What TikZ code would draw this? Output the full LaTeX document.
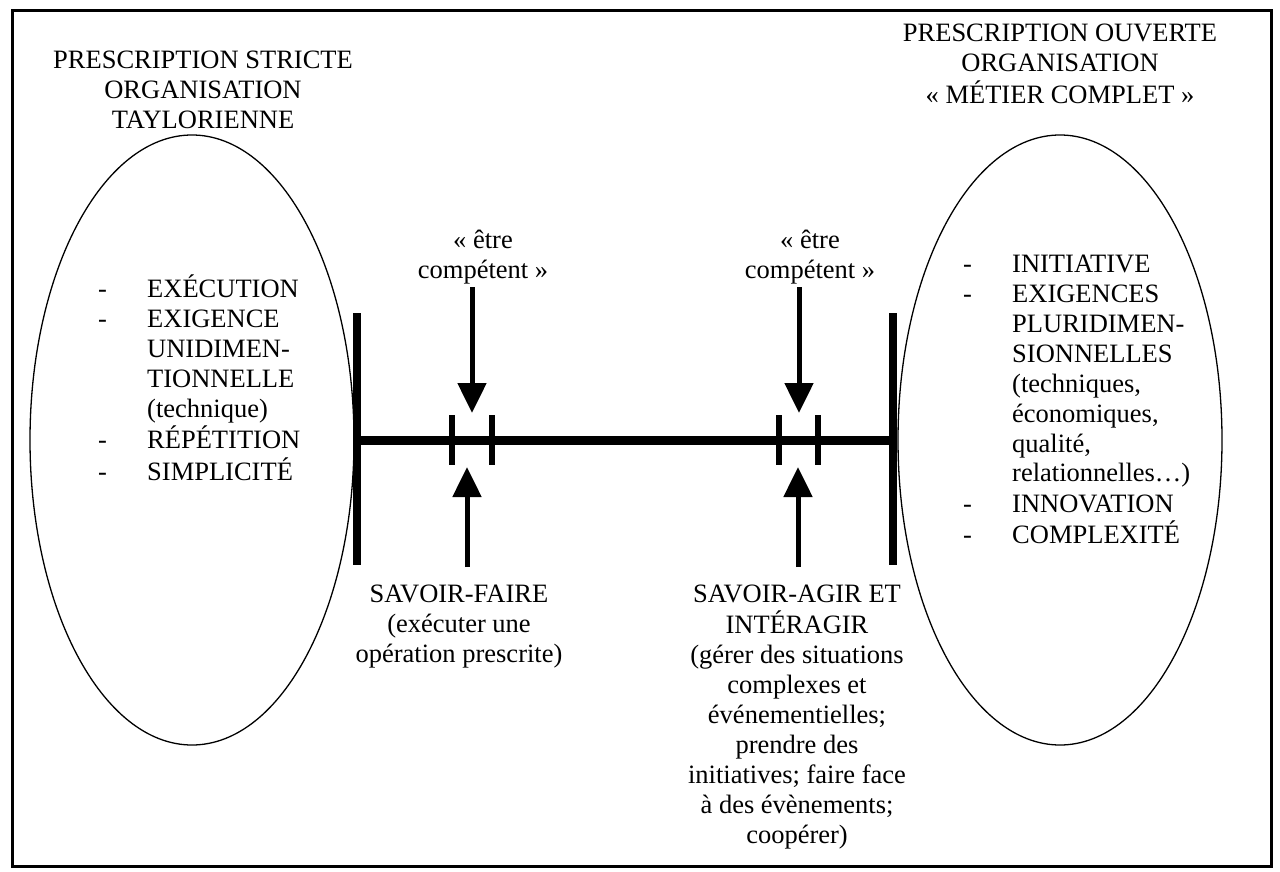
\documentclass[tikz,border=0pt]{standalone}
\usepackage{fontspec}
\setmainfont{Liberation Serif}
\usetikzlibrary{arrows.meta,shapes.geometric}
\newcommand\ctab[1]{\begin{tabular}[t]{@{}c@{}}#1\end{tabular}}
\newcommand\ltab[1]{\begin{tabular}[t]{@{}p{49pt}@{}l@{}}#1\end{tabular}}
\begin{document}
\begin{tikzpicture}[
		x=1pt, y=-1pt,
		txt/.style={inner sep=0pt, anchor=base, font=\fontsize{26.5}{30}\selectfont},
		lst/.style={inner sep=0pt, anchor=base west, font=\fontsize{26.5}{30}\selectfont},
		zone/.style={ellipse, draw, line width=1.3pt, minimum width=324pt, minimum height=610pt, inner sep=0pt},
		post/.style={line width=8pt},
		beam/.style={line width=9pt},
		notch/.style={line width=6pt},
		push/.style={line width=5pt, -{Triangle[width=28pt,length=30pt]}}
		]
	\useasboundingbox (0,0) rectangle (1280,872);
	\draw[line width=3pt] (12,11) rectangle (1271,866);
	\node[zone] (strict) at (192,440) {};
	\node[zone] (open) at (1060,440) {};
	\node[txt] (headA) at (203,69) {\ctab{PRESCRIPTION STRICTE\\ORGANISATION\\TAYLORIENNE}};
	\node[txt] (headB) at (1060,42) {\ctab{PRESCRIPTION OUVERTE\\ORGANISATION\\« MÉTIER COMPLET »}};
	\node[lst] (listA) at (98,297) {\ltab{-&EXÉCUTION\\-&EXIGENCE\\&UNIDIMEN-\\&TIONNELLE\\&(technique)\\-&RÉPÉTITION\\-&SIMPLICITÉ}};
	\node[lst] (listB) at (963,272) {\ltab{-&INITIATIVE\\-&EXIGENCES\\&PLURIDIMEN-\\&SIONNELLES\\&(techniques,\\&économiques,\\&qualité,\\&relationnelles…)\\-&INNOVATION\\-&COMPLEXITÉ}};
	\node[txt] (etreA) at (483,248) {\ctab{« être\\compétent »}};
	\node[txt] (etreB) at (810,248) {\ctab{« être\\compétent »}};
	\node[txt] (faire) at (459,602) {\ctab{SAVOIR-FAIRE\\(exécuter une\\opération prescrite)}};
	\node[txt] (agir) at (797,602) {\ctab{SAVOIR-AGIR ET\\INTÉRAGIR\\(gérer des situations\\complexes et\\événementielles;\\prendre des\\initiatives; faire face\\à des évènements;\\coopérer)}};
	\coordinate (postA) at (357,313);
	\coordinate (postB) at (893,313);
	\coordinate (midA) at (357,440);
	\coordinate (midB) at (893,440);
	\coordinate (tipA) at (472,413);
	\coordinate (tipB) at (799,413);
	\coordinate (tipC) at (467,467);
	\coordinate (tipD) at (798,467);
	\coordinate (footC) at (467,567);
	\coordinate (footD) at (798,567);
	\draw[post] (postA) -- ++(0,252);
	\draw[post] (postB) -- ++(0,252);
	\draw[beam] (midA) -- (midB);
	\foreach \x in {452,492,779,818}
		\draw[notch] (\x,415) -- (\x,465);
	\draw[push] (etreA.south -| tipA) -- (tipA);
	\draw[push] (etreB.south -| tipB) -- (tipB);
	\draw[push] (footC) -- (tipC);
	\draw[push] (footD) -- (tipD);
\end{tikzpicture}
\end{document}
